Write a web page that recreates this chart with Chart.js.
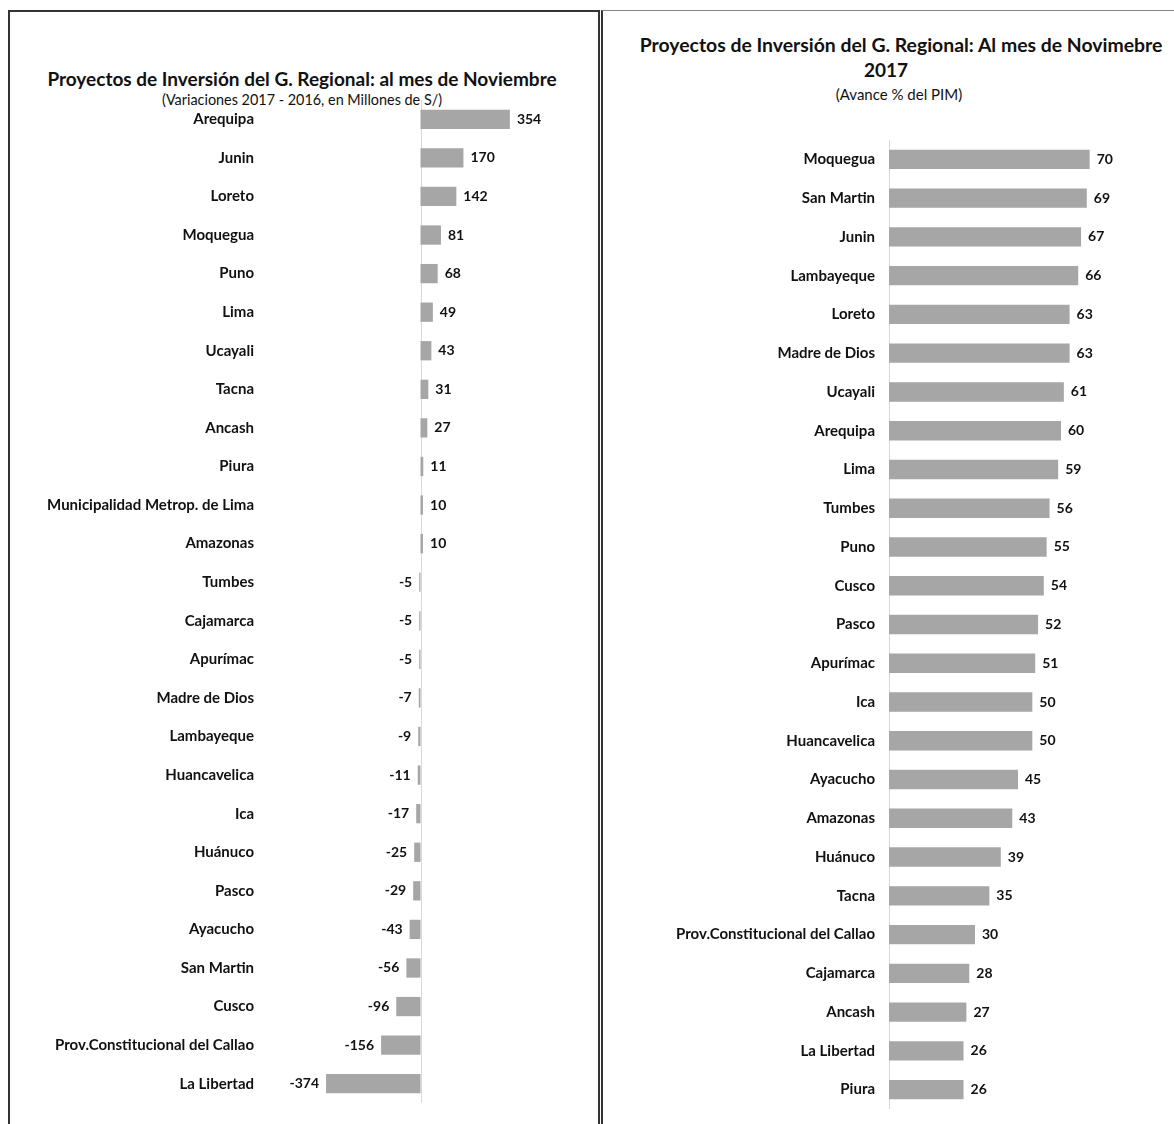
<!DOCTYPE html>
<html lang="es">
<head>
<meta charset="UTF-8">
<title>Proyectos de Inversión del G. Regional</title>
<script src="https://cdn.jsdelivr.net/npm/chart.js@4.4.0/dist/chart.umd.min.js"></script>
<style>
    body {
        margin: 0;
        background: #fff;
        font-family: Lato, 'Noto Sans', sans-serif;
        color: #111;
        overflow: hidden;
    }
    .panel {
        position: absolute;
        box-sizing: border-box;
        overflow: hidden;
    }
    #left {
        left: 8px; top: 10px; width: 592px; height: 1114px;
        border: 2px solid #333; border-bottom: none;
    }
    #right {
        left: 601px; top: 10px; width: 573px; height: 1114px;
        border-left: 2px solid #333; border-top: 1px solid #888;
    }
    .title, .sub {
        position: absolute; text-align: center; white-space: nowrap;
    }
    .title { font-weight: bold; font-size: 19px; }
    .sub { font-size: 14.4px; }
    .box { position: absolute; }
</style>
</head>
<body>
<div class="panel" id="left">
    <div class="title" style="top:55px;left:-2px;width:588px">Proyectos de Inversión del G. Regional: al mes de Noviembre</div>
    <div class="sub" style="top:79px;left:-2px;width:588px">(Variaciones 2017 - 2016, en Millones de S/)</div>
    <div class="box" style="left:0;top:0;width:589px;height:1122px"><canvas id="chartLeft"></canvas></div>
</div>
<div class="panel" id="right">
    <div class="title" style="top:22px;left:0;width:596px;font-size:19.4px">Proyectos de Inversión del G. Regional: Al mes de Novimebre</div>
    <div class="title" style="top:47px;left:0;width:566px">2017</div>
    <div class="sub" style="top:74px;left:0;width:592px;font-size:15px">(Avance % del PIM)</div>
    <div class="box" style="left:0;top:0;width:571px;height:1123px"><canvas id="chartRight"></canvas></div>
</div>

<script>
    // variaciones 2017 - 2016 (millones de S/)
    const leftCategories = ['Arequipa', 'Junin', 'Loreto', 'Moquegua', 'Puno', 'Lima', 'Ucayali', 'Tacna',
        'Ancash', 'Piura', 'Municipalidad Metrop. de Lima', 'Amazonas', 'Tumbes', 'Cajamarca', 'Apurímac',
        'Madre de Dios', 'Lambayeque', 'Huancavelica', 'Ica', 'Huánuco', 'Pasco', 'Ayacucho', 'San Martin',
        'Cusco', 'Prov.Constitucional del Callao', 'La Libertad'];
    const leftValues = [354, 170, 142, 81, 68, 49, 43, 31, 27, 11, 10, 10, -5, -5, -5, -7, -9, -11, -17,
        -25, -29, -43, -56, -96, -156, -374];

    // avance % del PIM
    const rightCategories = ['Moquegua', 'San Martin', 'Junin', 'Lambayeque', 'Loreto', 'Madre de Dios',
        'Ucayali', 'Arequipa', 'Lima', 'Tumbes', 'Puno', 'Cusco', 'Pasco', 'Apurímac', 'Ica', 'Huancavelica',
        'Ayacucho', 'Amazonas', 'Huánuco', 'Tacna', 'Prov.Constitucional del Callao', 'Cajamarca', 'Ancash',
        'La Libertad', 'Piura'];
    const rightValues = [70, 69, 67, 66, 63, 63, 61, 60, 59, 56, 55, 54, 52, 51, 50, 50, 45, 43, 39, 35,
        30, 28, 27, 26, 26];

    const FONT = "Lato, 'Noto Sans', sans-serif";
    Chart.defaults.font.family = FONT;
    Chart.defaults.color = '#111';

    // linea del cero + etiquetas de valor
    const barLabels = {
        id: 'barLabels',
        beforeDatasetsDraw(chart) {
            const ctx = chart.ctx;
            const x = Math.round(chart.scales.x.getPixelForValue(0)) + 0.5;
            ctx.save();
            ctx.strokeStyle = '#d9d9d9';
            ctx.lineWidth = 1;
            ctx.beginPath();
            ctx.moveTo(x, chart.chartArea.top);
            ctx.lineTo(x, chart.chartArea.bottom);
            ctx.stroke();
            ctx.restore();
        },
        afterDatasetsDraw(chart) {
            const ctx = chart.ctx;
            const data = chart.data.datasets[0].data;
            ctx.save();
            ctx.font = 'bold 14px ' + FONT;
            ctx.fillStyle = '#111';
            ctx.textBaseline = 'middle';
            chart.getDatasetMeta(0).data.forEach((bar, i) => {
                const v = data[i];
                if (v >= 0) {
                    ctx.textAlign = 'left';
                    ctx.fillText(v, bar.x + 7, bar.y);
                } else {
                    ctx.textAlign = 'right';
                    ctx.fillText(v, bar.x - 7, bar.y);
                }
            });
            ctx.restore();
        }
    };

    function makeChart(id, labels, values, opts) {
        return new Chart(document.getElementById(id), {
            type: 'bar',
            data: {
                labels: labels,
                datasets: [{
                    data: values,
                    backgroundColor: '#a6a6a6',
                    borderWidth: 0,
                    categoryPercentage: 1,
                    barPercentage: 0.5
                }]
            },
            options: {
                indexAxis: 'y',
                responsive: true,
                maintainAspectRatio: false,
                animation: false,
                layout: { padding: opts.padding },
                plugins: {
                    legend: { display: false },
                    tooltip: { enabled: false }
                },
                scales: {
                    x: { display: false, min: opts.min, max: opts.max },
                    y: {
                        grid: { display: false, drawTicks: false },
                        border: { display: false },
                        ticks: {
                            padding: opts.tickPad,
                            autoSkip: false,
                            color: '#111',
                            font: { size: 15, weight: 'bold' }
                        },
                        afterFit(scale) { scale.width = opts.axisWidth; }
                    }
                }
            },
            plugins: [barLabels]
        });
    }

    // canvases run past the panel bottom so the axis padding does not push the bars up
    makeChart('chartLeft', leftCategories, leftValues, {
        min: -600, max: 600, axisWidth: 259, tickPad: 15,
        padding: { top: 88, bottom: 31, left: 0, right: 27 }
    });

    makeChart('chartRight', rightCategories, rightValues, {
        min: 0, max: 90, axisWidth: 286, tickPad: 14,
        padding: { top: 129, bottom: 25, left: 0, right: 27 }
    });
</script>
</body>
</html>
